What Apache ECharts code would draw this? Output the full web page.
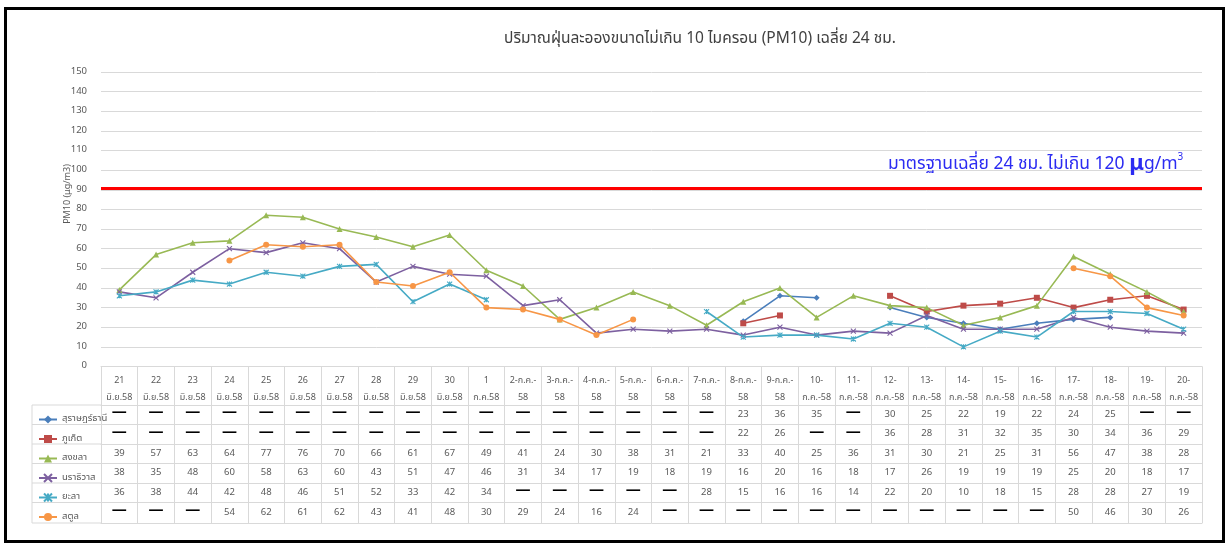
<!DOCTYPE html>
<html>
<head>
<meta charset="utf-8">
<script src="https://cdn.jsdelivr.net/npm/echarts@6/dist/echarts.min.js"></script>
<style>
body { margin: 0; background: #fff; }
#main { width: 1230px; height: 547px; }
</style>
</head>
<body>
<div id="main"></div>
<script>
var FONT = "'Noto Sans Thai', 'Noto Sans', 'DejaVu Sans', sans-serif";

// วันที่ (หัวตาราง)
var days = ['21\nมิ.ย.58', '22\nมิ.ย.58', '23\nมิ.ย.58', '24\nมิ.ย.58', '25\nมิ.ย.58',
    '26\nมิ.ย.58', '27\nมิ.ย.58', '28\nมิ.ย.58', '29\nมิ.ย.58', '30\nมิ.ย.58',
    '1\nก.ค.58', '2-ก.ค.-\n58', '3-ก.ค.-\n58', '4-ก.ค.-\n58', '5-ก.ค.-\n58',
    '6-ก.ค.-\n58', '7-ก.ค.-\n58', '8-ก.ค.-\n58', '9-ก.ค.-\n58', '10-\nก.ค.-58',
    '11-\nก.ค.-58', '12-\nก.ค.-58', '13-\nก.ค.-58', '14-\nก.ค.-58', '15-\nก.ค.-58',
    '16-\nก.ค.-58', '17-\nก.ค.-58', '18-\nก.ค.-58', '19-\nก.ค.-58', '20-\nก.ค.-58'];

// ค่า PM10 รายจังหวัด (null = ไม่มีข้อมูล)
var suratthani = [null, null, null, null, null, null, null, null, null, null,
    null, null, null, null, null, null, null, 23, 36, 35,
    null, 30, 25, 22, 19, 22, 24, 25, null, null];
var phuket = [null, null, null, null, null, null, null, null, null, null,
    null, null, null, null, null, null, null, 22, 26, null,
    null, 36, 28, 31, 32, 35, 30, 34, 36, 29];
var songkhla = [39, 57, 63, 64, 77, 76, 70, 66, 61, 67,
    49, 41, 24, 30, 38, 31, 21, 33, 40, 25,
    36, 31, 30, 21, 25, 31, 56, 47, 38, 28];
var narathiwat = [38, 35, 48, 60, 58, 63, 60, 43, 51, 47,
    46, 31, 34, 17, 19, 18, 19, 16, 20, 16,
    18, 17, 26, 19, 19, 19, 25, 20, 18, 17];
var yala = [36, 38, 44, 42, 48, 46, 51, 52, 33, 42,
    34, null, null, null, null, null, 28, 15, 16, 16,
    14, 22, 20, 10, 18, 15, 28, 28, 27, 19];
var satun = [null, null, null, 54, 62, 61, 62, 43, 41, 48,
    30, 29, 24, 16, 24, null, null, null, null, null,
    null, null, null, null, null, null, 50, 46, 30, 26];

var names = ['สุราษฎร์ธานี', 'ภูเก็ต', 'สงขลา', 'นราธิวาส', 'ยะลา', 'สตูล'];
var values = [suratthani, phuket, songkhla, narathiwat, yala, satun];
var colors = ['#4A7EBB', '#BE4B48', '#98B954', '#7D60A0', '#46AAC5', '#F79646'];
var symbols = ['diamond', 'rect', 'triangle',
    'path://M0,0L10,10M10,0L0,10',
    'path://M0,0L10,10M10,0L0,10M5,0L5,10',
    'circle'];
var symbolSizes = [6, 6, 6, 5, 5, 6];

var standard = 91;

// ตาราง: แถวหัวและแถวข้อมูล
var gridTop = 72, gridBottomY = 366.5, gridLeft = 101, gridRight = 1202;
var rowEdges = [405, 424.5, 444, 463.5, 483, 502.5, 523];

var myChart = echarts.init(document.getElementById('main'));

var xAxes = [{
    type: 'category',
    data: days,
    position: 'bottom',
    boundaryGap: true,
    axisLine: { show: true, lineStyle: { color: '#d9d9d9', width: 1 } },
    axisTick: { show: true, interval: 0, length: rowEdges[6] - gridBottomY, lineStyle: { color: '#d9d9d9' } },
    axisLabel: {
        interval: 0, margin: 6, fontSize: 9, lineHeight: 17,
        color: '#595959', fontFamily: FONT
    }
}];
names.forEach(function (n, i) {
    xAxes.push({
        type: 'category',
        data: days,
        position: 'bottom',
        offset: rowEdges[i] - gridBottomY,
        axisLine: { show: true, lineStyle: { color: '#d9d9d9', width: 1 } },
        axisTick: { show: false },
        axisLabel: {
            interval: 0,
            margin: (rowEdges[i + 1] - rowEdges[i]) / 2,
            verticalAlign: 'middle',
            fontSize: 9.5,
            color: '#595959',
            fontFamily: FONT,
            formatter: function (v, idx) {
                var d = values[i][idx];
                return d == null ? '{d|—}' : String(d);
            },
            rich: {
                d: { fontSize: 15, fontWeight: 'bold', color: '#000', padding: [0, 0, 3, 0] }
            }
        }
    });
});
xAxes.push({
    type: 'category',
    data: days,
    position: 'bottom',
    offset: rowEdges[6] - gridBottomY,
    axisLine: { show: true, lineStyle: { color: '#d9d9d9', width: 1 } },
    axisTick: { show: false },
    axisLabel: { show: false }
});

var series = names.map(function (n, i) {
    return {
        name: n,
        type: 'line',
        xAxisIndex: 0,
        data: values[i],
        connectNulls: false,
        symbol: symbols[i],
        symbolSize: symbolSizes[i],
        showAllSymbol: true,
        lineStyle: { color: colors[i], width: 1.6 },
        itemStyle: { color: colors[i], borderColor: colors[i], borderWidth: (i == 3 || i == 4) ? 1.1 : 0 },
        z: 3
    };
});
series[0].markLine = {
    silent: true,
    symbol: 'none',
    label: { show: false },
    lineStyle: { color: '#FF0000', width: 3, type: 'solid' },
    data: [{ yAxis: standard }]
};

// เส้นช่องชื่อจังหวัด (คอลัมน์ซ้ายของตาราง)
var graphics = [];
rowEdges.forEach(function (y) {
    graphics.push({ type: 'line', shape: { x1: 32, y1: y, x2: gridLeft, y2: y }, style: { stroke: '#d9d9d9', lineWidth: 1 } });
});
graphics.push({ type: 'line', shape: { x1: 32, y1: rowEdges[0], x2: 32, y2: rowEdges[6] }, style: { stroke: '#d9d9d9', lineWidth: 1 } });
graphics.push({
    type: 'text', x: 68, y: 194, rotation: Math.PI / 2,
    style: { text: 'PM10 (μg/m3)', fill: '#595959', font: '9px ' + FONT, align: 'center', verticalAlign: 'middle' }
});
graphics.push({ type: 'rect', shape: { x: 5.5, y: 8.5, width: 1218, height: 533 }, style: { fill: 'none', stroke: '#000', lineWidth: 3 }, z: 100 });

option = {
    animation: false,
    textStyle: { fontFamily: FONT },
    title: [{
        text: 'ปริมาณฝุ่นละอองขนาดไม่เกิน 10 ไมครอน (PM10) เฉลี่ย 24 ชม.',
        left: 695, top: 27, textAlign: 'center',
        textStyle: { fontSize: 15.5, fontWeight: 'normal', color: '#404040', fontFamily: FONT }
    }, {
        text: 'มาตรฐานเฉลี่ย 24 ชม. ไม่เกิน 120 {mu|μ}g/m{sup|3}',
        left: 883, top: 148,
        textStyle: {
            fontSize: 17.5, fontWeight: 'normal', color: '#2B2BF2', fontFamily: FONT,
            rich: {
                mu: { fontSize: 22, fontWeight: 'bold', color: '#2B2BF2', fontFamily: FONT },
                sup: { fontSize: 10, color: '#2B2BF2', verticalAlign: 'top', padding: [0, 0, 15, 0], fontFamily: FONT }
            }
        }
    }],
    legend: {
        orient: 'vertical',
        left: 33, top: rowEdges[0] + 4.5,
        itemWidth: 18, itemHeight: 10, itemGap: 9.5,
        textStyle: { fontSize: 9.5, color: '#595959', lineHeight: 10, fontFamily: FONT },
        data: names
    },
    grid: {
        left: gridLeft, right: 1230 - gridRight, top: gridTop, bottom: 547 - gridBottomY,
        containLabel: false
    },
    xAxis: xAxes,
    yAxis: {
        type: 'value',
        min: 0, max: 150, interval: 10,
        axisLine: { show: false },
        axisTick: { show: false },
        axisLabel: { margin: 14, fontSize: 9.5, color: '#595959', fontFamily: FONT },
        splitLine: { lineStyle: { color: '#d9d9d9', width: 1 } }
    },
    graphic: graphics,
    series: series
};
myChart.setOption(option);
</script>
</body>
</html>
